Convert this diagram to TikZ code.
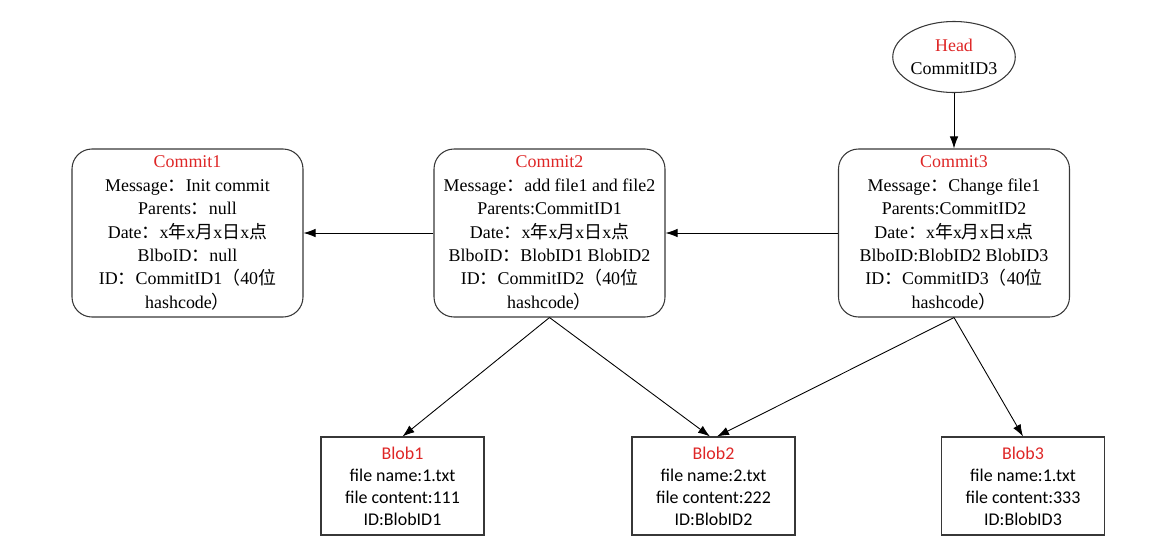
\documentclass[tikz,border=0pt]{standalone}
\usepackage{fontspec}
\setmainfont{Liberation Serif}
\newfontfamily\cjk{Noto Sans CJK SC}
\newfontfamily\blobfont{Carlito}
\usetikzlibrary{arrows.meta,shapes.geometric}
\definecolor{titlered}{RGB}{222,38,38}
\definecolor{linegray}{RGB}{55,55,55}
\newcommand\zh[1]{{\cjk #1}}
\newcommand\ttl[1]{\textcolor{titlered}{#1}}

\begin{document}
\begin{tikzpicture}[
    every node/.style={font=\fontsize{10.2}{13.3}\selectfont},
    commit/.style={draw=linegray, line width=0.6pt, rounded corners=0.4cm, minimum width=4.62cm, minimum height=3.36cm, align=center, inner sep=1pt},
    blob/.style={draw=linegray, line width=0.6pt, minimum width=3.26cm, minimum height=1.96cm, align=center, font=\blobfont\fontsize{10.2}{12.5}\selectfont},
    link/.style={draw=black, line width=0.5pt, -{Latex[length=2.4mm,width=1.7mm]}}
]
    \useasboundingbox (0,0) rectangle (23.1,-11.14);

    % Head
    \node[draw=linegray, line width=0.6pt, ellipse, minimum width=2.44cm, minimum height=1.42cm, align=center, inner sep=0pt] (head) at (19.08,-1.14) {\ttl{Head}\\CommitID3};

    % Commits
    \node[commit] (c1) at (3.75,-4.66) {\ttl{Commit1}\\Message\zh{：}Init commit\\Parents\zh{：}null\\Date\zh{：}x\zh{年}x\zh{月}x\zh{日}x\zh{点}\\BlboID\zh{：}null\\ID\zh{：}CommitID1\zh{（}40\zh{位}\\hashcode\zh{）}};
    \node[commit] (c2) at (10.99,-4.66) {\ttl{Commit2}\\Message\zh{：}add file1 and file2\\Parents:CommitID1\\Date\zh{：}x\zh{年}x\zh{月}x\zh{日}x\zh{点}\\BlboID\zh{：}BlobID1 BlobID2\\ID\zh{：}CommitID2\zh{（}40\zh{位}\\hashcode\zh{）}};
    \node[commit] (c3) at (19.08,-4.66) {\ttl{Commit3}\\Message\zh{：}Change file1\\Parents:CommitID2\\Date\zh{：}x\zh{年}x\zh{月}x\zh{日}x\zh{点}\\BlboID:BlobID2 BlobID3\\ID\zh{：}CommitID3\zh{（}40\zh{位}\\hashcode\zh{）}};

    % Blobs
    \node[blob] (b1) at (8.05,-9.72) {\ttl{Blob1}\\file name:1.txt\\file content:111\\ID:BlobID1};
    \node[blob] (b2) at (14.27,-9.72) {\ttl{Blob2}\\file name:2.txt\\file content:222\\ID:BlobID2};
    \node[blob] (b3) at (20.46,-9.72) {\ttl{Blob3}\\file name:1.txt\\file content:333\\ID:BlobID3};

    % Setas
    \draw[link] (head) -- (c3);
    \draw[link] (c3) -- (c2);
    \draw[link] (c2) -- (c1);
    \draw[link] (c2.south) -- (b1.north);
    \draw[link] (c2.south) -- ([xshift=-2pt]b2.north);
    \draw[link] (c3.south) -- ([xshift=2pt]b2.north);
    \draw[link] (c3.south) -- (b3.north);
\end{tikzpicture}
\end{document}
